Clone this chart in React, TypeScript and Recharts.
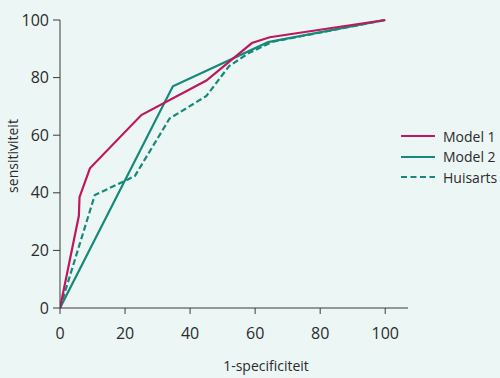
import React from 'react';
import { LineChart, Line, XAxis, YAxis } from 'recharts';

const model1 = [
  { x: 0, y: 0 },
  { x: 5.8, y: 32 },
  { x: 6, y: 38.5 },
  { x: 9.2, y: 48.5 },
  { x: 25, y: 67 },
  { x: 45, y: 79 },
  { x: 59, y: 92 },
  { x: 64.5, y: 94 },
  { x: 100, y: 100 },
];

const model2 = [
  { x: 0, y: 0 },
  { x: 34.7, y: 77 },
  { x: 64, y: 92.3 },
  { x: 100, y: 100 },
];

const huisarts = [
  { x: 0, y: 0 },
  { x: 10.7, y: 39.2 },
  { x: 23, y: 45.8 },
  { x: 33.7, y: 65.8 },
  { x: 45, y: 73.6 },
  { x: 52, y: 84 },
  { x: 58, y: 88.5 },
  { x: 65.5, y: 92.5 },
  { x: 100, y: 100 },
];

const ticks = [0, 20, 40, 60, 80, 100];

const legendItems = [
  { name: 'Model 1', color: '#c0185c', dash: undefined },
  { name: 'Model 2', color: '#16897a', dash: undefined },
  { name: 'Huisarts', color: '#16897a', dash: '6 3.5' },
];

const font = "'Open Sans', sans-serif";
const axisColor = '#3a3a3a';
const textColor = '#2b2b2b';

export default function App() {
  return (
    <div
      style={{
        position: 'absolute',
        left: 0,
        top: 0,
        width: 500,
        height: 378,
        background: '#ecf6f5',
        fontFamily: font,
      }}
    >
      <LineChart
        width={500}
        height={378}
        margin={{ top: 20, right: 92, bottom: 0, left: 0 }}
      >
        <XAxis
          type="number"
          dataKey="x"
          domain={[0, 107]}
          ticks={ticks}
          allowDataOverflow
          height={70}
          stroke={axisColor}
          tickSize={6}
          tickMargin={14}
          tick={{ fill: textColor, fontSize: 16, fontFamily: font }}
          label={{
            value: '1-specificiteit',
            position: 'insideBottom',
            offset: 7,
            dx: 32,
            fill: textColor,
            fontSize: 14,
            fontFamily: font,
          }}
        />
        <YAxis
          type="number"
          dataKey="y"
          domain={[0, 100]}
          ticks={ticks}
          width={60}
          stroke={axisColor}
          tickSize={7}
          tickMargin={4}
          tick={{ fill: textColor, fontSize: 16, fontFamily: font }}
          label={{
            value: 'sensitiviteit',
            angle: -90,
            position: 'center',
            dx: -17,
            dy: -8,
            fill: textColor,
            fontSize: 14,
            fontFamily: font,
          }}
        />
        <Line
          data={model2}
          dataKey="y"
          type="linear"
          stroke="#16897a"
          strokeWidth={2.2}
          dot={false}
          isAnimationActive={false}
        />
        <Line
          data={huisarts}
          dataKey="y"
          type="linear"
          stroke="#16897a"
          strokeWidth={2.2}
          strokeDasharray="6 3"
          dot={false}
          isAnimationActive={false}
        />
        <Line
          data={model1}
          dataKey="y"
          type="linear"
          stroke="#c0185c"
          strokeWidth={2.2}
          dot={false}
          isAnimationActive={false}
        />
      </LineChart>
      <div style={{ position: 'absolute', left: 401, top: 126 }}>
        {legendItems.map((item) => (
          <div
            key={item.name}
            style={{ display: 'flex', alignItems: 'center', height: 20.5 }}
          >
            <svg width={35} height={6}>
              <line
                x1={0}
                y1={3}
                x2={34}
                y2={3}
                stroke={item.color}
                strokeWidth={2.2}
                strokeDasharray={item.dash}
              />
            </svg>
            <span
              style={{
                marginLeft: 7,
                fontSize: 14,
                color: textColor,
                fontFamily: font,
              }}
            >
              {item.name}
            </span>
          </div>
        ))}
      </div>
    </div>
  );
}
